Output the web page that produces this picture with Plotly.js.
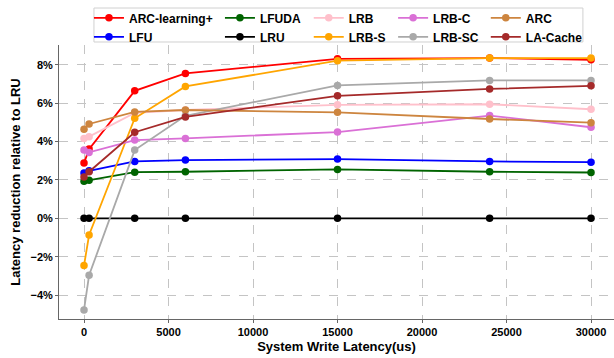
<!DOCTYPE html>
<html>
<head>
<meta charset="utf-8">
<script src="https://cdn.plot.ly/plotly-3.0.1.min.js"></script>
<style>html,body{margin:0;padding:0;background:#fff;}#chart{width:614px;height:358px;}</style>
</head>
<body>
<div id="chart"></div>
<script>
const xValues = [0, 300, 3000, 6000, 15000, 24000, 30000];

const arcLearningPlus = [2.88, 3.61, 6.65, 7.56, 8.32, 8.36, 8.27];
const lfu       = [2.37, 2.48, 2.97, 3.04, 3.09, 2.97, 2.93];
const lfuda     = [1.94, 1.99, 2.41, 2.43, 2.55, 2.43, 2.39];
const lru       = [0, 0, 0, 0, 0, 0, 0];
const lrb       = [4.17, 4.26, 5.50, 5.65, 5.92, 5.95, 5.69];
const lrbS      = [-2.46, -0.87, 5.22, 6.88, 8.22, 8.36, 8.36];
const lrbC      = [3.56, 3.44, 4.08, 4.17, 4.50, 5.36, 4.75];
const lrbSC     = [-4.78, -2.97, 3.56, 5.35, 6.93, 7.19, 7.19];
const arc       = [4.64, 4.92, 5.55, 5.65, 5.53, 5.18, 4.99];
const laCache   = [2.16, 2.43, 4.49, 5.29, 6.39, 6.75, 6.91];

const xTickVals = [0, 5000, 10000, 15000, 20000, 25000, 30000];
const xTickText = ['0', '5000', '10000', '15000', '20000', '25000', '30000'];
const yTickVals = [-4, -2, 0, 2, 4, 6, 8];
const yTickText = ['\u22124%', '\u22122%', '0%', '2%', '4%', '6%', '8%'];

const seriesNames = ['ARC-learning+', 'LFU', 'LFUDA', 'LRU', 'LRB', 'LRB-S', 'LRB-C', 'LRB-SC', 'ARC', 'LA-Cache'];
const seriesData = [arcLearningPlus, lfu, lfuda, lru, lrb, lrbS, lrbC, lrbSC, arc, laCache];
const seriesColors = ['#ff0000', '#0000ff', '#006400', '#000000', '#ffc0cb', '#ffa500', '#da70d6', '#a9a9a9', '#cd853f', '#a52a2a'];
const legendIds = ['legend', 'legend', 'legend2', 'legend2', 'legend3', 'legend3', 'legend4', 'legend4', 'legend5', 'legend5'];

const traces = seriesNames.map((n, i) => ({
  x: xValues,
  y: seriesData[i],
  name: n,
  type: 'scatter',
  mode: 'lines+markers',
  line: {color: seriesColors[i], width: 1.8},
  marker: {color: seriesColors[i], size: 7.5},
  legend: legendIds[i]
}));

const font = {family: '"Liberation Sans", Arial, sans-serif', color: '#000', weight: 'bold'};
const legendBase = (x) => ({
  x: x, y: 1.152, xanchor: 'left', yanchor: 'top', orientation: 'v',
  bgcolor: 'rgba(0,0,0,0)', borderwidth: 0,
  font: {family: font.family, size: 12, color: '#000', weight: 'bold'},
  tracegroupgap: 0
});

const layout = {
  width: 614, height: 358,
  margin: {l: 59, r: 0, t: 45, b: 39},
  paper_bgcolor: '#fff', plot_bgcolor: '#fff',
  font: font,
  showlegend: true,
  legend: legendBase(0.054),
  legend2: legendBase(0.290),
  legend3: legendBase(0.450),
  legend4: legendBase(0.602),
  legend5: legendBase(0.769),
  xaxis: {
    range: [-1480, 31360],
    tickvals: xTickVals,
    ticktext: xTickText,
    showgrid: true, gridcolor: '#c4c4c4', griddash: 'dash', gridwidth: 1,
    zeroline: false,
    showline: true, linecolor: '#666', linewidth: 1,
    ticks: 'outside', ticklen: 3, tickcolor: '#666',
    tickfont: {family: font.family, size: 11, color: '#000', weight: 'bold'},
    title: {text: 'System Write Latency(us)', font: {family: font.family, size: 13, color: '#000', weight: 'bold'}, standoff: 4}
  },
  yaxis: {
    range: [-5.25, 9.04],
    tickvals: yTickVals,
    ticktext: yTickText,
    showgrid: true, gridcolor: '#c4c4c4', griddash: 'dash', gridwidth: 1,
    zeroline: false,
    showline: true, linecolor: '#666', linewidth: 1,
    ticks: 'outside', ticklen: 3, tickcolor: '#666',
    tickfont: {family: font.family, size: 11, color: '#000', weight: 'bold'},
    title: {text: 'Latency reduction relative to LRU', font: {family: font.family, size: 13, color: '#000', weight: 'bold'}, standoff: 6}
  },
  shapes: [{
    type: 'rect', xref: 'paper', yref: 'paper',
    x0: 0.063, x1: 0.944, y0: 1.011, y1: 1.135,
    line: {color: '#d0d0d0', width: 1}, fillcolor: 'rgba(255,255,255,0.8)', layer: 'below'
  }]
};

Plotly.newPlot('chart', traces, layout, {displayModeBar: false, staticPlot: true});
</script>
</body>
</html>
